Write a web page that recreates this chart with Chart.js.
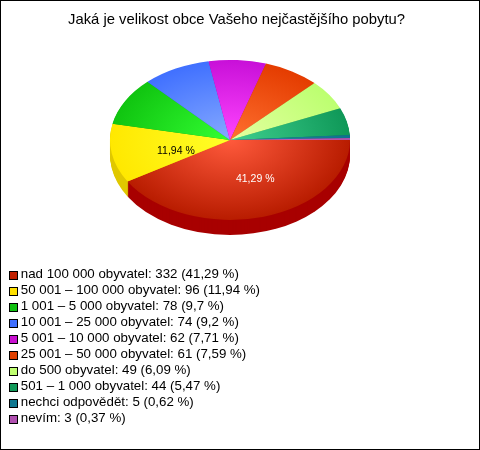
<!DOCTYPE html>
<html>
<head>
<meta charset="utf-8">
<style>html,body{margin:0;padding:0;background:#fff}canvas{display:block}</style>
<script src="https://cdn.jsdelivr.net/npm/chart.js@4"></script>
</head>
<body>
<canvas id="c" width="480" height="450"></canvas>
<script>
const titleText = 'Jaká je velikost obce Vašeho nejčastějšího pobytu?';
const categories = ['nad 100 000 obyvatel','50 001 – 100 000 obyvatel','1 001 – 5 000 obyvatel','10 001 – 25 000 obyvatel','5 001 – 10 000 obyvatel','25 001 – 50 000 obyvatel','do 500 obyvatel','501 – 1 000 obyvatel','nechci odpovědět','nevím'];
const counts = [332,96,78,74,62,61,49,44,5,3];
const percents = ['41,29','11,94','9,7','9,2','7,71','7,59','6,09','5,47','0,62','0,37'];
const innerColors = ['#ff5a3c','#ffff28','#33ff33','#86aaff','#ff44ff','#ff7030','#e4ffa0','#40d090','#2090a0','#e060c0'];
const outerColors = ['#b81c00','#ffe800','#10c410','#4070ff','#c810d8','#e43c00','#bcff70','#0f9858','#107090','#b050a8'];
const sideColors  = ['#a80000','#e0c800','#0c9a0c','#3058c8','#a00ca8','#b83000','#98cc58','#0c7844','#0c5870','#8c4088'];
const swatchColors= ['#c02000','#ffe000','#10c010','#4070ff','#c810d0','#e04000','#c0ff70','#109858','#107890','#b050b0'];
const sliceLabelShown = [true,true,false,false,false,false,false,false,false,false];
const sliceLabelColors = ['#ffffff','#000000'];
const sliceLabelShift = [[9,1],[5,4]];

const FONT = '"Liberation Sans", Arial, sans-serif';
const PIE_RADIUS = 120, TILT = 80/120, DEPTH = 15;

function swatch(color){
  const s = document.createElement('canvas'); s.width = 11; s.height = 12;
  const g = s.getContext('2d');
  g.fillStyle = '#000'; g.fillRect(2,3,9,9);
  g.fillStyle = color; g.fillRect(3,4,7,7);
  return s;
}
const swatches = swatchColors.map(swatch);

function sliceFill(ctx){
  const chart = ctx.chart, a = chart.chartArea;
  if(!a || ctx.dataIndex === undefined) return outerColors[0];
  const cx = (a.left+a.right)/2, cy = (a.top+a.bottom)/2;
  const g = chart.ctx.createRadialGradient(cx,cy,0,cx,cy,PIE_RADIUS);
  g.addColorStop(0, innerColors[ctx.dataIndex]);
  g.addColorStop(1, outerColors[ctx.dataIndex]);
  return g;
}

const tiltPlugin = {
  id:'tilt',
  afterLayout(chart){
    chart.titleBlock.left = 0; chart.titleBlock.right = 473; chart.titleBlock.top = 11;
    chart.legend.left = 8.2; chart.legend.right = 470; chart.legend.top = 264.65; chart.legend.bottom = 449;
  },
  beforeDatasetsDraw(chart){
    const ctx = chart.ctx, arcs = chart.getDatasetMeta(0).data;
    const a = arcs[0];
    ctx.save();
    ctx.translate(a.x,a.y); ctx.scale(1,TILT); ctx.translate(-a.x,-a.y);
    for(let d = DEPTH; d >= 1; d--){
      arcs.forEach((arc,i)=>{
        ctx.beginPath();
        ctx.moveTo(arc.x, arc.y + d/TILT);
        ctx.arc(arc.x, arc.y + d/TILT, arc.outerRadius, arc.startAngle, arc.endAngle);
        ctx.closePath();
        ctx.fillStyle = sideColors[i];
        ctx.fill();
      });
    }
  },
  afterDatasetsDraw(chart){
    const ctx = chart.ctx, arcs = chart.getDatasetMeta(0).data;
    ctx.restore();
    ctx.save();
    ctx.font = '10.5px '+FONT;
    ctx.textAlign = 'center'; ctx.textBaseline = 'middle';
    arcs.forEach((arc,i)=>{
      if(!sliceLabelShown[i]) return;
      const mid = (arc.startAngle+arc.endAngle)/2;
      const r = arc.outerRadius/2;
      ctx.fillStyle = sliceLabelColors[i];
      ctx.fillText(percents[i]+' %', arc.x+Math.cos(mid)*r+sliceLabelShift[i][0], arc.y+Math.sin(mid)*r*TILT+sliceLabelShift[i][1]);
    });
    ctx.restore();
  },
  afterDraw(chart){
    const ctx = chart.ctx;
    ctx.save(); ctx.strokeStyle='#000'; ctx.lineWidth=1;
    ctx.strokeRect(0.5,0.5,chart.width-1,chart.height-1);
    ctx.restore();
  }
};

new Chart(document.getElementById('c'),{
  type:'pie',
  data:{labels:categories,datasets:[{data:counts,backgroundColor:sliceFill,borderWidth:0,radius:PIE_RADIUS,clip:false}]},
  options:{
    responsive:false,animation:false,rotation:90,
    layout:{padding:{top:0,left:0,right:21,bottom:188}},
    plugins:{
      tooltip:{enabled:false},
      title:{display:true,text:titleText,color:'#000',padding:0,font:{family:FONT,size:14.8,weight:'normal'}},
      legend:{display:true,position:'left',align:'start',maxWidth:1,
        labels:{color:'#000',font:{family:FONT,size:13.3},padding:2.7,usePointStyle:true,pointStyleWidth:3.2,boxHeight:9,
          generateLabels(){
            return categories.map((c,i)=>({text:c+': '+counts[i]+' ('+percents[i]+' %)',pointStyle:swatches[i],fontColor:'#000',lineWidth:0,index:i,hidden:false}));
          }}}
    }
  },
  plugins:[tiltPlugin]
});
</script>
</body>
</html>
